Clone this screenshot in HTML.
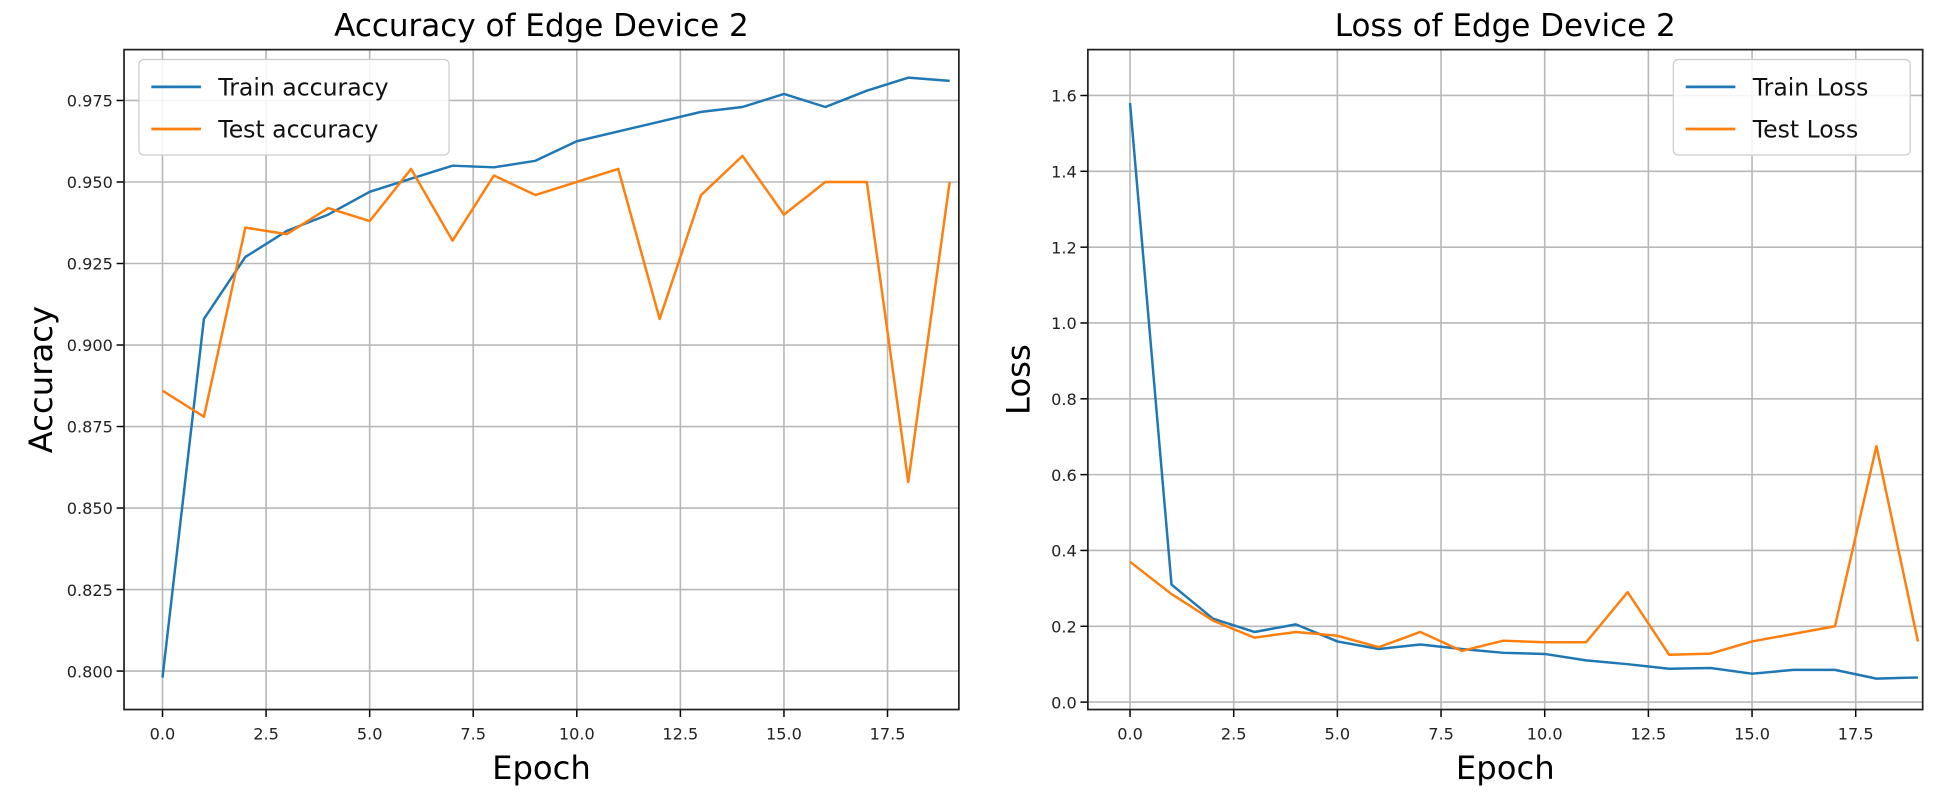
<!DOCTYPE html>
<html><head><meta charset="utf-8"><style>
body{margin:0;background:#fff;}
svg{display:block;font-family:"DejaVu Sans","Liberation Sans",sans-serif;}
</style></head><body>
<svg id="c" width="1945" height="796" viewBox="0 0 1568 641.7" preserveAspectRatio="none" xmlns="http://www.w3.org/2000/svg"></svg>
<script>
const epochs=[0,1,2,3,4,5,6,7,8,9,10,11,12,13,14,15,16,17,18,19];
const trainAcc=[0.798,0.908,0.927,0.935,0.940,0.947,0.951,0.955,0.9545,0.9565,0.9625,0.9655,0.9685,0.9715,0.973,0.977,0.973,0.978,0.982,0.981];
const testAcc=[0.886,0.878,0.936,0.934,0.942,0.938,0.954,0.932,0.952,0.946,0.950,0.954,0.908,0.946,0.958,0.940,0.950,0.950,0.858,0.950];
const trainLoss=[1.58,0.31,0.22,0.185,0.205,0.16,0.14,0.152,0.14,0.13,0.127,0.11,0.10,0.088,0.09,0.075,0.085,0.085,0.062,0.065];
const testLoss=[0.37,0.285,0.215,0.17,0.185,0.175,0.145,0.185,0.135,0.162,0.158,0.158,0.29,0.125,0.128,0.16,0.18,0.20,0.675,0.16];
const xTicks=[0,2.5,5,7.5,10,12.5,15,17.5];
const accTicks=[0.800,0.825,0.850,0.875,0.900,0.925,0.950,0.975];
const lossTicks=[0.0,0.2,0.4,0.6,0.8,1.0,1.2,1.4,1.6];
const NS="http://www.w3.org/2000/svg";
const svg=document.getElementById('c');
function mk(tag,attrs,parent,text){const e=document.createElementNS(NS,tag);for(const k in attrs)e.setAttribute(k,attrs[k]);if(text!==undefined)e.textContent=text;(parent||svg).appendChild(e);return e;}
function panel(cfg){
  const g=mk('g',{});
  
  
  const L=cfg.L,R=cfg.R,T=40,B=572;
  const xs=v=>L+cfg.x0px+(v)*cfg.xstep;
  const ys=v=>B-(v-cfg.ymin)/(cfg.ymax-cfg.ymin)*(B-T);
  xTicks.forEach(t=>{
    const x=xs(t);
    const gl=mk('line',{x1:x,x2:x,y1:T,y2:B,stroke:'#b8b8b8','stroke-width':1.3},g);
    
    mk('line',{x1:x,x2:x,y1:B,y2:B+6,stroke:'#000','stroke-width':1.2},g);
    const tl=mk('text',{x:x,y:B+24,'text-anchor':'middle','font-size':13,fill:'#222'},g,t.toFixed(1));
    
  });
  cfg.yTicks.forEach(t=>{
    const y=ys(t);
    const gl=mk('line',{x1:L,x2:R,y1:y,y2:y,stroke:'#b8b8b8','stroke-width':1.3},g);
    
    mk('line',{x1:L-6,x2:L,y1:y,y2:y,stroke:'#000','stroke-width':1.2},g);
    const tl=mk('text',{x:L-9,y:y+5,'text-anchor':'end','font-size':13,fill:'#222'},g,t.toFixed(cfg.dec));
    
  });
  [[cfg.s1,'#1f77b4',cfg.n1],[cfg.s2,'#ff7f0e',cfg.n2]].forEach(([s,c,n])=>{
    const p=mk('polyline',{points:s.map((v,i)=>xs(epochs[i])+','+ys(v)).join(' '),fill:'none',stroke:c,'stroke-width':2,'stroke-linejoin':'round'},g);
    
  });
  const fr=mk('rect',{x:L,y:T,width:R-L,height:B-T,fill:'none',stroke:'#222','stroke-width':1.4},g);
  
  const ti=mk('text',{x:(L+R)/2,y:29,'text-anchor':'middle','font-size':25,fill:'#000'},g,cfg.title);
  
  const xl=mk('text',{x:(L+R)/2,y:628,'text-anchor':'middle','font-size':26,fill:'#000'},g,'Epoch');
  
  const yx=cfg.ylabX,yy=(T+B)/2;
  const yl=mk('text',{x:yx,y:yy,'text-anchor':'middle','font-size':26,fill:'#000',transform:`rotate(-90 ${yx} ${yy})`},g,cfg.ylab);
  
  const lg=mk('g',{},g);
  
  mk('rect',{x:cfg.lx,y:48,width:cfg.lw,height:77,rx:4,fill:'rgba(255,255,255,0.85)',stroke:'#ccc','stroke-width':1},lg);
  [[cfg.l1,'#1f77b4',70],[cfg.l2,'#ff7f0e',104]].forEach(([t,c,y])=>{
    const e=mk('g',{},lg);
    
    mk('line',{x1:cfg.lx+10,x2:cfg.lx+50,y1:y,y2:y,stroke:c,'stroke-width':2.2},e);
    mk('text',{x:cfg.lx+64,y:y+7,'font-size':19,fill:'#111'},e,t);
  });
}
panel({name:'accuracy-panel',L:100,R:773,x0px:31,xstep:33.4,ymin:0.7882,ymax:0.9906,yTicks:accTicks,dec:3,s1:trainAcc,s2:testAcc,n1:'train-accuracy-line',n2:'test-accuracy-line',title:'Accuracy of Edge Device 2',ylab:'Accuracy',ylabX:42,lx:112,lw:250,l1:'Train accuracy',l2:'Test accuracy'});
panel({name:'loss-panel',L:877,R:1550,x0px:34,xstep:33.43,ymin:-0.0196,ymax:1.721,yTicks:lossTicks,dec:1,s1:trainLoss,s2:testLoss,n1:'train-loss-line',n2:'test-loss-line',title:'Loss of Edge Device 2',ylab:'Loss',ylabX:830,lx:1349,lw:191,l1:'Train Loss',l2:'Test Loss'});
</script>
</body></html>
